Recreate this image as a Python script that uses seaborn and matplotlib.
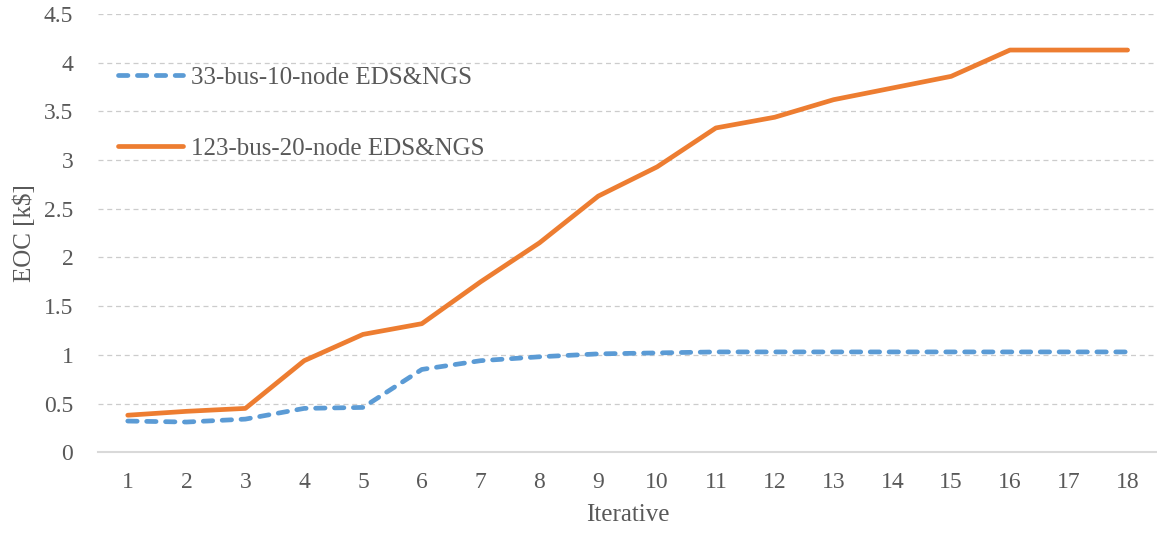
import pandas as pd
import matplotlib.pyplot as plt
import seaborn as sns

iterations = list(range(1, 19))
eoc_33 = [0.32, 0.31, 0.34, 0.45, 0.46, 0.85, 0.94, 0.98, 1.01, 1.02,
          1.03, 1.03, 1.03, 1.03, 1.03, 1.03, 1.03, 1.03]
eoc_123 = [0.38, 0.42, 0.45, 0.94, 1.21, 1.32, 1.75, 2.15, 2.63, 2.93,
           3.33, 3.44, 3.62, 3.74, 3.86, 4.13, 4.13, 4.13]
series_names = ["33-bus-10-node EDS&NGS", "123-bus-20-node EDS&NGS"]
y_ticks = [0, 0.5, 1, 1.5, 2, 2.5, 3, 3.5, 4, 4.5]

df = pd.concat([
    pd.DataFrame({"Iterative": iterations, "EOC": eoc_33, "case": series_names[0]}),
    pd.DataFrame({"Iterative": iterations, "EOC": eoc_123, "case": series_names[1]}),
])

sns.set_style("white")
plt.rcParams["font.family"] = ["Liberation Serif", "DejaVu Serif"]

fig, ax = plt.subplots(figsize=(11.57, 5.39), dpi=100)
fig.subplots_adjust(left=0.085, right=1.0, top=0.974, bottom=0.161)

palette = {series_names[0]: "#5B9BD5", series_names[1]: "#ED7D31"}
dashes = {series_names[0]: (2.0, 2.0), series_names[1]: ""}
sns.lineplot(data=df, x="Iterative", y="EOC", hue="case", style="case",
             palette=palette, dashes=dashes, linewidth=3.4, ax=ax)

for line in ax.lines:
    line.set_dash_capstyle("round")
    line.set_solid_capstyle("round")

ax.set_xlim(0.5, 18.5)
ax.set_ylim(0, 4.5)
ax.set_xticks(iterations)
ax.set_yticks(y_ticks, [f"{t:g}" for t in y_ticks])
ax.tick_params(length=0, labelsize=17, colors="#595959")
ax.tick_params(axis="x", pad=14)
ax.tick_params(axis="y", pad=18)
ax.grid(axis="y", linestyle=(0, (4, 3)), color="#cccccc", linewidth=0.9)
ax.set_axisbelow(True)

for side in ["top", "right", "left"]:
    ax.spines[side].set_visible(False)
ax.spines["bottom"].set_color("#d9d9d9")
ax.spines["bottom"].set_linewidth(1.5)

ax.set_xlabel("Iterative", fontsize=18, color="#595959", labelpad=8)
ax.set_ylabel("EOC [k$]", fontsize=18, color="#595959", labelpad=6)

leg = ax.legend(loc="upper left", bbox_to_anchor=(0.019, 0.88), frameon=False,
                fontsize=18, handlelength=2.6, handletextpad=0.3,
                labelspacing=1.92, borderaxespad=0.0, borderpad=0.0)
for t in leg.get_texts():
    t.set_color("#595959")
for h in leg.legend_handles:
    h.set_dash_capstyle("round")

fig.savefig("out.png", dpi=100)
